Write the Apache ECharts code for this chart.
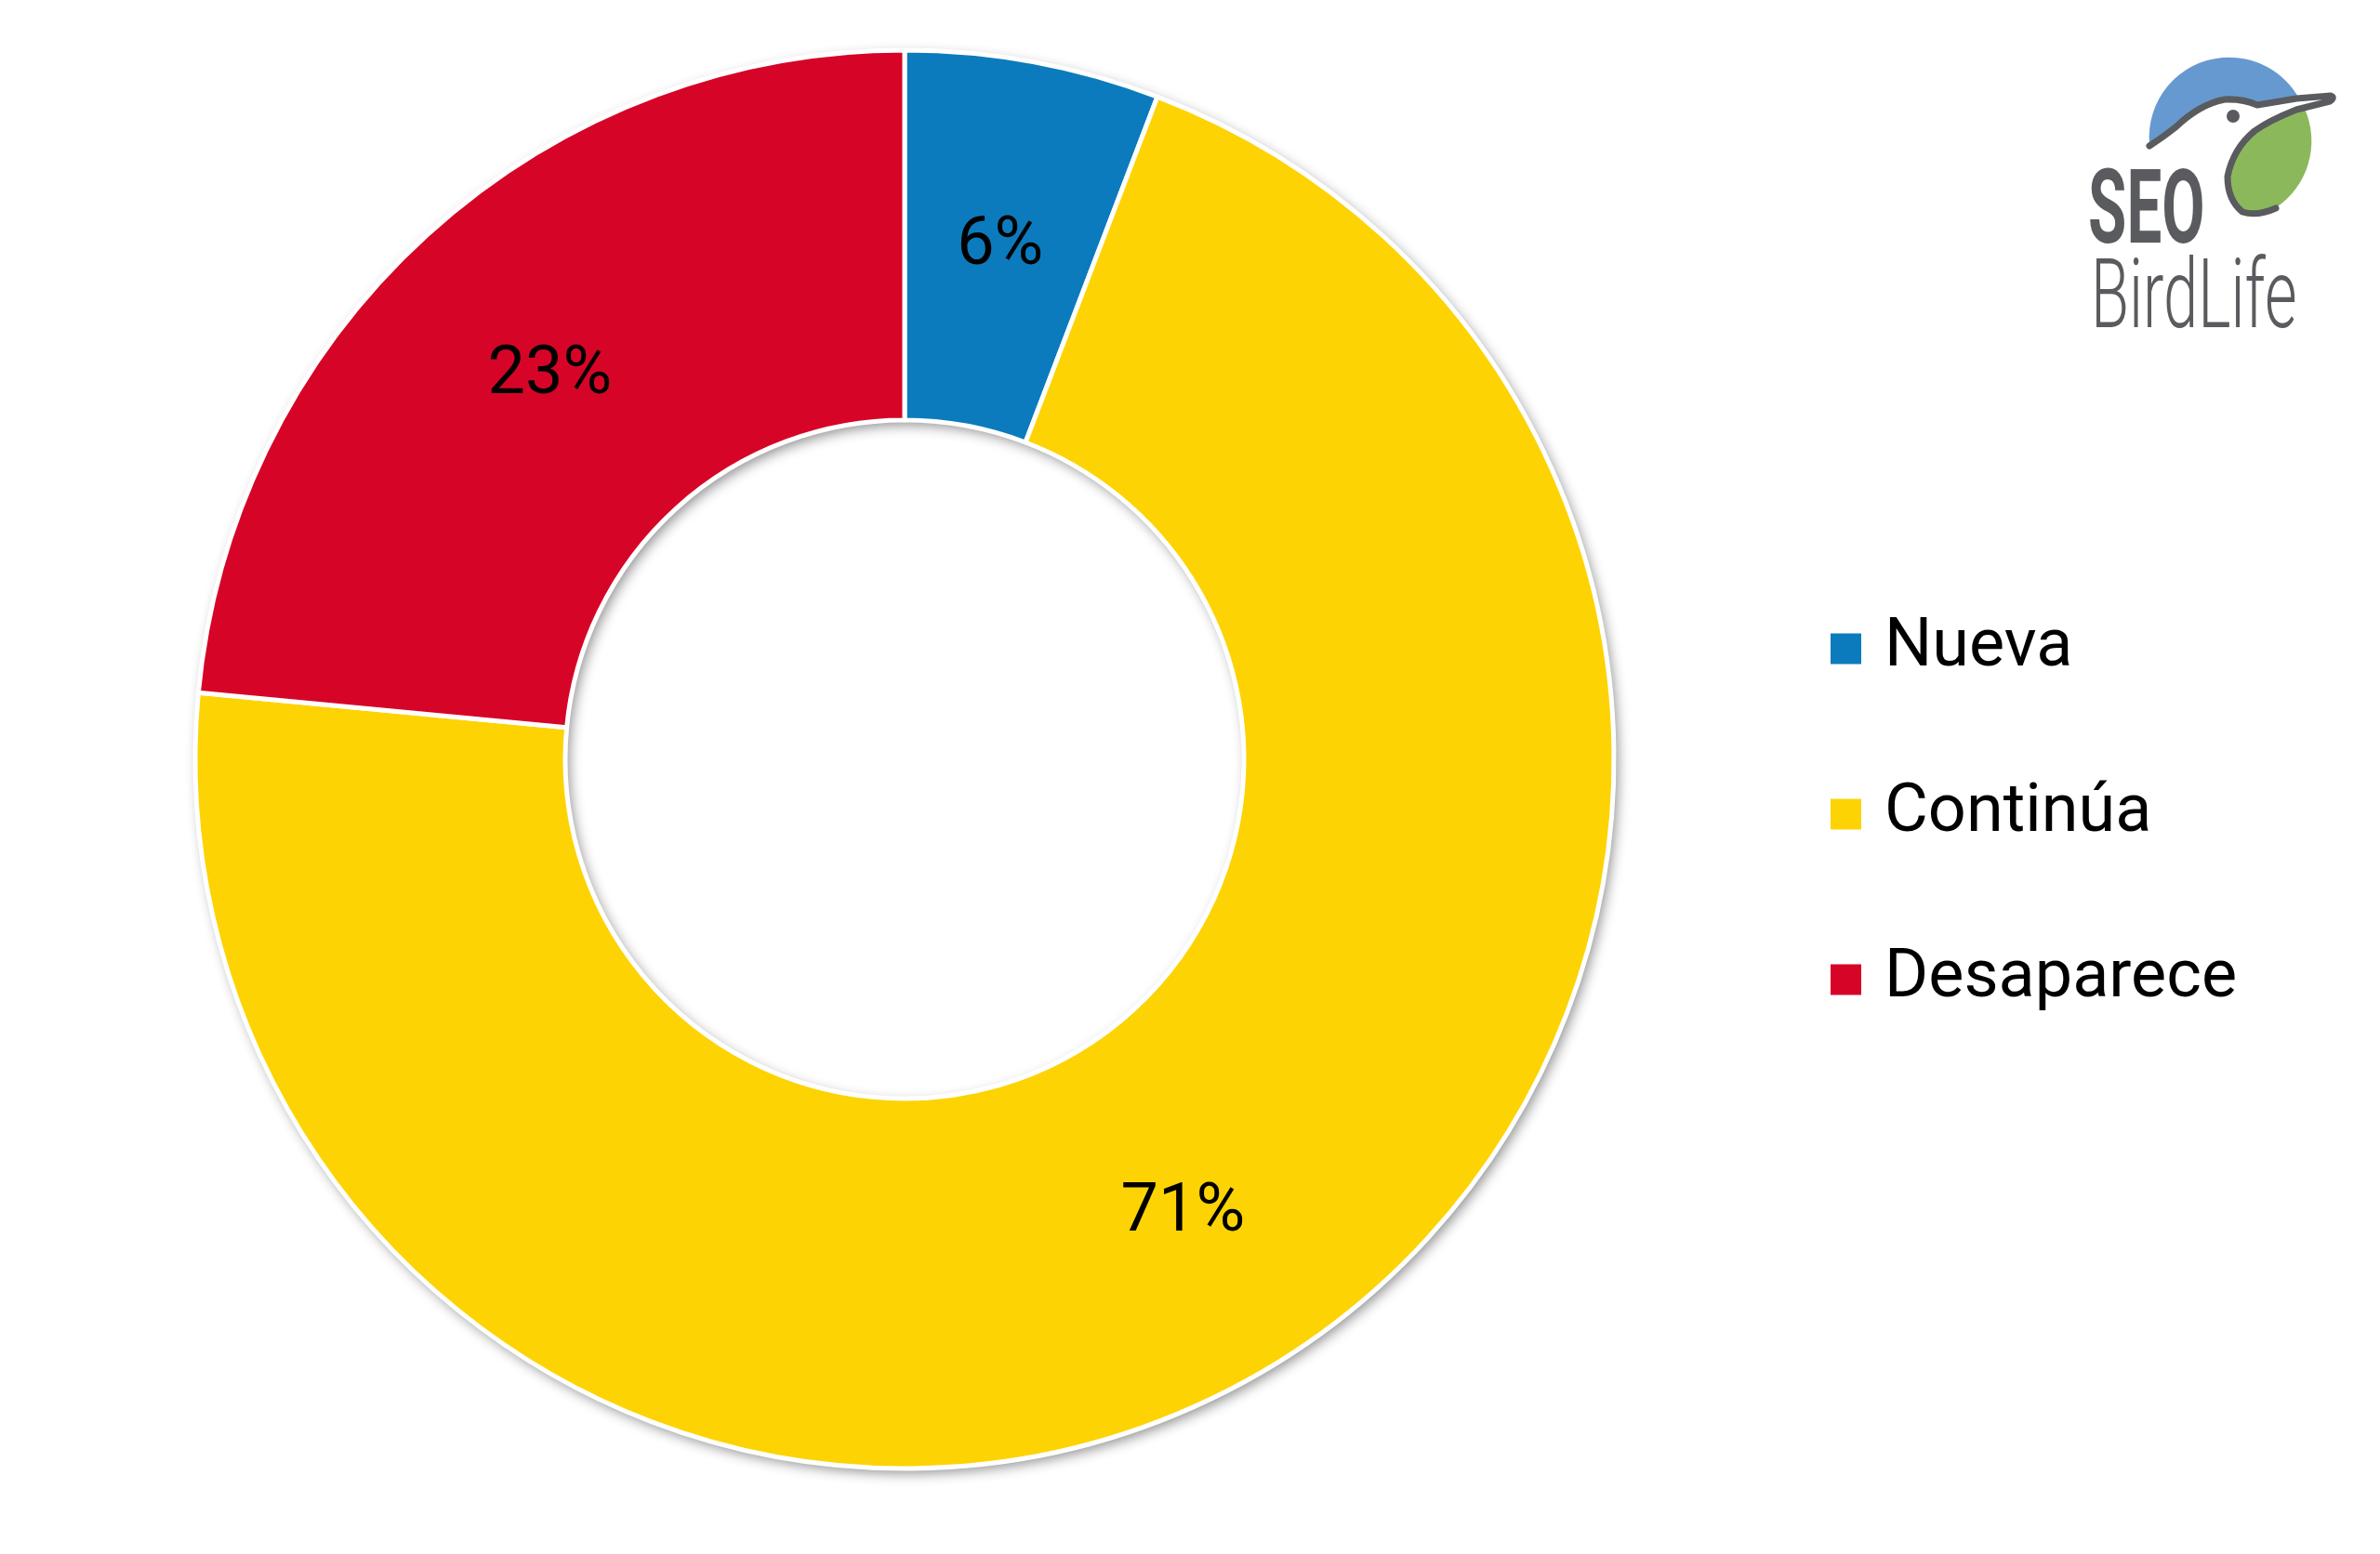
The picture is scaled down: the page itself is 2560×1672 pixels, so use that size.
<!DOCTYPE html>
<html>
<head>
<meta charset="utf-8">
<title>Nueva / Continúa / Desaparece</title>
<script src="https://cdn.jsdelivr.net/npm/echarts@6/dist/echarts.min.js"></script>
<style>
  html, body { margin: 0; padding: 0; background: #fff; }
  #chart { width: 2560px; height: 1672px; }
</style>
</head>
<body>
<div id="chart"></div>
<script>
(function () {
  // datos
  var categories = ['Nueva', 'Continúa', 'Desaparece'];
  var values = [5.8, 70.7, 23.5];

  var gray = '#5a5b5e';

  var pieData = [];
  for (var i = 0; i < categories.length; i++) {
    pieData.push({ name: categories[i], value: values[i] });
  }

  // formas del logo (coordenadas en píxeles de la página)
  echarts.graphic.registerShape('logoBlue', echarts.graphic.extendPath(
    'M 2312 155 A 86 86 0 0 1 2474 108 L 2428 113 Q 2412 106 2393 107 Q 2365 112 2340 137 Z', {}));
  echarts.graphic.registerShape('logoGreen', echarts.graphic.extendPath(
    'M 2479 117 A 86 86 0 0 1 2447 224 Q 2428 233 2412 228 Q 2396 215 2396 190 Q 2402 160 2425 141 Q 2440 130 2470 118 Z', {}));
  echarts.graphic.registerShape('logoLine', echarts.graphic.extendPath(
    'M 2312 157 Q 2326 148 2340 137 Q 2366 112 2393 107 Q 2412 106 2428 113 L 2470 106 L 2507 103 Q 2512 105 2506 109 L 2470 118 Q 2440 130 2425 141 Q 2402 160 2396 190 Q 2396 215 2412 228 Q 2428 233 2448 224', {}));

  var myChart = echarts.init(document.getElementById('chart'));

  myChart.setOption({
    backgroundColor: '#fff',
    animation: false,
    color: ['#0c7bbd', '#fdd304', '#d60527'],
    legend: {
      orient: 'vertical',
      left: 1962,
      top: 657,
      data: categories,
      icon: 'rect',
      itemWidth: 35,
      itemHeight: 35,
      itemGap: 106,
      selectedMode: false,
      textStyle: {
        fontFamily: 'Roboto',
        fontSize: 72,
        lineHeight: 72,
        color: '#000',
        padding: [0, 0, 0, 19]
      }
    },
    series: [
      {
        // anillo de fondo solo para la sombra
        type: 'pie',
        silent: true,
        center: [973, 817],
        radius: [365, 763],
        label: { show: false },
        labelLine: { show: false },
        itemStyle: {
          color: '#fff',
          shadowBlur: 14,
          shadowOffsetX: 4,
          shadowOffsetY: 5,
          shadowColor: 'rgba(0,0,0,0.45)'
        },
        data: [{ name: 'fondo', value: 1 }]
      },
      {
        type: 'pie',
        center: [973, 817],
        radius: [365, 763],
        startAngle: 90,
        clockwise: true,
        percentPrecision: 0,
        emphasis: { disabled: true },
        label: {
          show: true,
          position: 'inside',
          formatter: '{d}%',
          offset: [0, 7],
          fontFamily: 'Roboto',
          fontSize: 72,
          color: '#000'
        },
        labelLine: { show: false },
        itemStyle: {
          borderColor: '#fff',
          borderWidth: 5
        },
        data: pieData
      }
    ],
    graphic: [
      // logo SEO BirdLife
      {
        type: 'logoBlue',
        style: { fill: '#6699d0' }
      },
      {
        type: 'logoGreen',
        style: { fill: '#8cb85c' }
      },
      {
        type: 'logoLine',
        style: { fill: null, stroke: gray, lineWidth: 7, lineJoin: 'round', lineCap: 'round' }
      },
      {
        type: 'circle',
        shape: { cx: 2402, cy: 125, r: 7 },
        style: { fill: gray }
      },
      {
        type: 'text',
        x: 2246,
        y: 233,
        scaleX: 0.6,
        style: {
          text: 'SEO',
          fill: gray,
          fontFamily: 'Roboto',
          fontWeight: 'bold',
          fontSize: 112,
          align: 'left',
          verticalAlign: 'middle'
        }
      },
      {
        type: 'text',
        x: 2249,
        y: 326,
        scaleX: 0.65,
        style: {
          text: 'BirdLife',
          fill: gray,
          fontFamily: 'Roboto',
          fontWeight: 300,
          fontSize: 103,
          align: 'left',
          verticalAlign: 'middle'
        }
      }
    ]
  });

  window.addEventListener('resize', function () {
    myChart.resize();
  });
})();
</script>
</body>
</html>
